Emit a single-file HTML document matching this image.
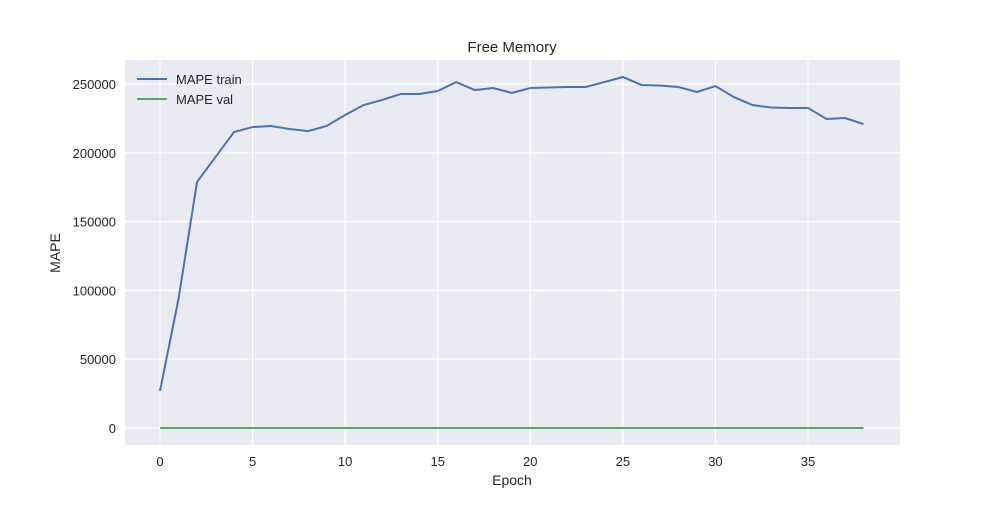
<!DOCTYPE html>
<html><head><meta charset="utf-8"><style>
body{margin:0;background:#fff;}
svg{font-family:"Liberation Sans","DejaVu Sans",sans-serif;}
</style></head><body>
<svg id="chart" width="1000" height="500">
<rect x="0" y="0" width="1000" height="500" fill="#fff"/>
<rect x="125" y="60" width="775" height="385" fill="#eaeaf2"/>
<g id="grid"></g>
<g id="ticks"></g>
<g id="series"></g>
<text x="512" y="52" text-anchor="middle" font-size="15" fill="#262626">Free Memory</text>
<text x="512" y="485" text-anchor="middle" font-size="14" fill="#262626">Epoch</text>
<text x="60" y="253" text-anchor="middle" font-size="14" fill="#262626" transform="rotate(-90 60 253)">MAPE</text>
<g>
<line x1="137" y1="79" x2="167" y2="79" stroke="#4c72b0" stroke-width="2"/>
<text x="176" y="84" font-size="13" fill="#262626">MAPE train</text>
<line x1="137" y1="99" x2="167" y2="99" stroke="#55a868" stroke-width="2"/>
<text x="176" y="104" font-size="13" fill="#262626">MAPE val</text>
</g>
</svg>
<script>
const epochs = [0,1,2,3,4,5,6,7,8,9,10,11,12,13,14,15,16,17,18,19,20,21,22,23,24,25,26,27,28,29,30,31,32,33,34,35,36,37,38];
const trainValues = [26900,93750,178800,197000,215100,218700,219500,217300,215800,219500,227500,234700,238400,242700,242700,244900,251400,245600,247100,243500,247100,247500,247800,247800,251400,255100,249300,248900,247800,244200,248500,240500,234700,232900,232600,232600,224600,225300,220900];
const valValues = [0,0,0,0,0,0,0,0,0,0,0,0,0,0,0,0,0,0,0,0,0,0,0,0,0,0,0,0,0,0,0,0,0,0,0,0,0,0,0];
const xTicks = [0,5,10,15,20,25,30,35];
const yTicks = [0,50000,100000,150000,200000,250000];

const NS="http://www.w3.org/2000/svg";
function xs(v){return 160+(v-0)*(808-160)/35;}
function ys(v){return 428-v*344/250000;}
function mk(tag,attrs,parent){const e=document.createElementNS(NS,tag);for(const k in attrs)e.setAttribute(k,attrs[k]);parent.appendChild(e);return e;}
const grid=document.getElementById('grid'),ticks=document.getElementById('ticks'),series=document.getElementById('series');
xTicks.forEach(t=>{
  const l=mk('line',{x1:xs(t),x2:xs(t),y1:60,y2:445,stroke:'#fff','stroke-width':1.2},grid);
  
  
  const tx=mk('text',{x:xs(t),y:466,'text-anchor':'middle','font-size':13,fill:'#262626'},ticks);
  tx.textContent=t;
  
  
});
yTicks.forEach(t=>{
  const l=mk('line',{x1:125,x2:900,y1:ys(t),y2:ys(t),stroke:'#fff','stroke-width':1.2},grid);
  
  
  const tx=mk('text',{x:116,y:ys(t)+5,'text-anchor':'end','font-size':13,fill:'#262626'},ticks);
  tx.textContent=t;
  
  
});
function pts(vals){return epochs.map((e,i)=>xs(e)+','+ys(vals[i])).join(' ');}
const lt=mk('polyline',{points:pts(trainValues),fill:'none',stroke:'#4c72b0','stroke-width':2},series);


const lv=mk('polyline',{points:pts(valValues),fill:'none',stroke:'#55a868','stroke-width':2},series);


</script>
</body></html>
